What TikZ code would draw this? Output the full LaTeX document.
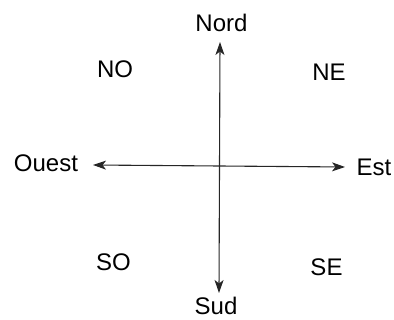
\documentclass[tikz,border=0pt]{standalone}
\usepackage{fontspec}
\setmainfont{Liberation Sans}
\usetikzlibrary{arrows.meta}
\begin{document}
\begin{tikzpicture}[x=1pt,y=-1pt,
  lbl/.style={font=\fontsize{24}{27}\selectfont, inner sep=0pt, anchor=center},
  axis/.style={draw=black!85, line width=1.1pt, {Stealth[length=13pt,width=9pt,inset=3.5pt]}-{Stealth[length=13pt,width=9pt,inset=3.5pt]}}]
\useasboundingbox (0,0) rectangle (394,320);
\node[lbl] (N) at (221.5,23) {Nord};
\node[lbl] (S) at (216,305.5) {Sud};
\node[lbl] (O) at (46,163.5) {Ouest};
\node[lbl] (E) at (374,167.5) {Est};
\node[lbl] (NO) at (115,69) {NO};
\node[lbl] (NE) at (329,72.5) {NE};
\node[lbl] (SO) at (113.5,262.5) {SO};
\node[lbl] (SE) at (326.5,267) {SE};
\coordinate (nt) at (220,42);
\coordinate (st) at (219,293);
\coordinate (ot) at (93,165);
\coordinate (et) at (345,167);
\draw[axis] (st) -- (nt);
\draw[axis] (ot) -- (et);
\end{tikzpicture}
\end{document}
